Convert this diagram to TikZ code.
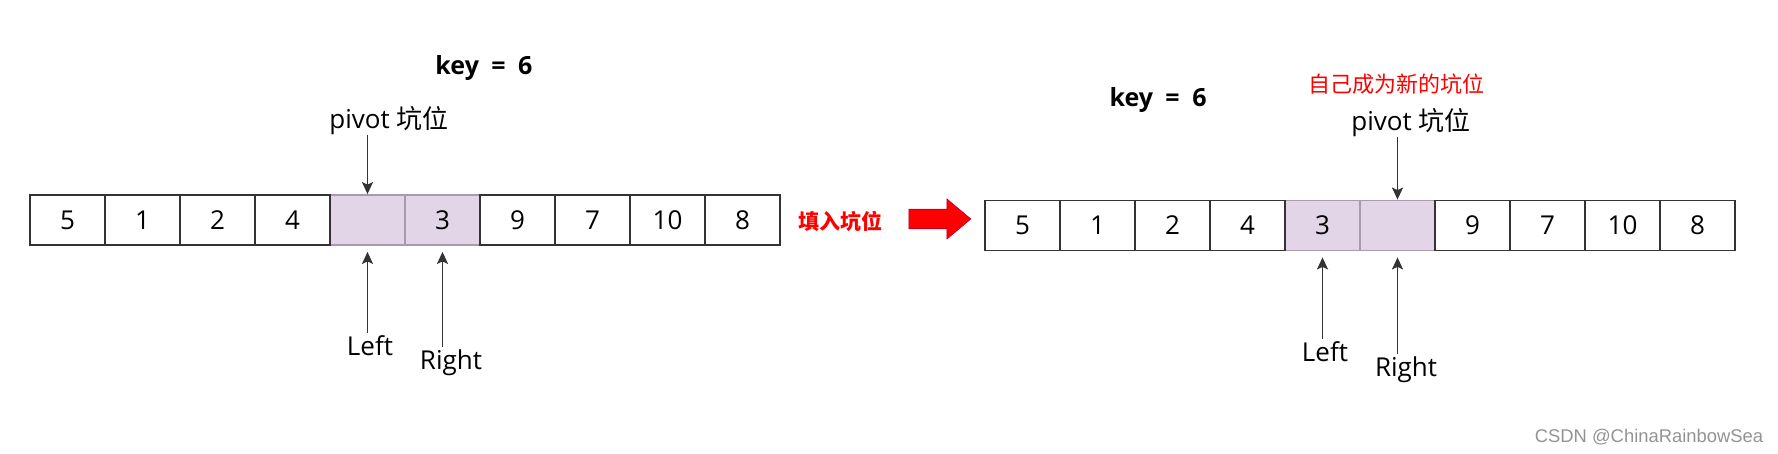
\documentclass[tikz,border=0pt]{standalone}
\usepackage{fontspec}
\setmainfont{Open Sans}
\newfontfamily\cjk{Noto Sans CJK SC}
\newfontfamily\wmfont{Liberation Sans}
\usetikzlibrary{arrows.meta, shapes.arrows}

\definecolor{cellline}{HTML}{333333}
\definecolor{holefill}{HTML}{E1D5E7}
\definecolor{holeline}{HTML}{A79CAD}
\definecolor{arrowline}{HTML}{B0003A}

\tikzset{
	cell/.style = {draw = cellline, line width = 1.8pt, minimum width = 75pt, minimum height = 50pt, inner sep = 0pt, font = \fontsize{26}{30}\selectfont},
	hole/.style = {cell, draw = holeline, fill = holefill},
	ptr/.style = {draw = cellline, line width = 1.8pt, -{Stealth[length = 12pt, width = 11pt, inset = 2.5pt]}},
	lbl/.style = {inner sep = 3pt, font = \fontsize{26}{30}\selectfont},
	keytext/.style = {inner sep = 0pt, font = \fontsize{25}{30}\selectfont\bfseries}
}

\begin{document}
\begin{tikzpicture}[x = 1pt, y = -1pt]
	\useasboundingbox (0, 0) rectangle (1778, 454);
	%\draw[gray, dotted] (0, 0) grid[step = 50] (1778, 454);
	% before: hole at 5
	\node[hole] (L5) at (367.5, 220) {}; \node[hole] (L6) at (442.5, 220) {3};
	\foreach \i/\v in {1/5, 2/1, 3/2, 4/4, 7/9, 8/7, 9/10, 10/8}
		\node[cell] (L\i) at ({75*\i - 7.5}, 220) {\v};
	\node[keytext] (lkey) at (484, 68) {key\hspace{6pt} =\hspace{6pt} 6};
	\node[lbl, inner sep = 0pt] (lpiv) at (389, 121) {pivot {\cjk 坑位}};
	\draw[ptr] (L5.north |- lpiv.south) -- (L5.north);
	\node[lbl] (lleft) at (370, 346) {Left};
	\node[lbl] (lright) at (451, 363) {Right};
	\draw[ptr, shorten > = 6pt] (L5.south |- lleft.north) -- (L5.south);
	\draw[ptr, shorten > = 6pt] (L6.south |- lright.north) -- (L6.south);
	% step
	\node[inner sep = 0pt, text = red, font = \fontsize{21}{25}\selectfont\cjk\bfseries] (fill) at (840, 221) {填入坑位};
	\node[single arrow, fill = red, draw = arrowline, line width = 0.6pt, inner sep = 6.5pt, minimum height = 62pt, minimum width = 40pt, single arrow tip angle = 80] (step) at (934, 219) {};
	% after: hole at 6
	\node[hole] (R5) at (1322.5, 225.5) {3}; \node[hole] (R6) at (1397.5, 225.5) {};
	\foreach \i/\v in {1/5, 2/1, 3/2, 4/4, 7/9, 8/7, 9/10, 10/8}
		\node[cell] (R\i) at ({75*\i + 947.5}, 225.5) {\v};
	\node[keytext] (rkey) at (1158, 100) {key\hspace{6pt} =\hspace{6pt} 6};
	\node[inner sep = 0pt, text = red, font = \fontsize{22}{26}\selectfont\cjk] (rnote) at (1396, 84) {自己成为新的坑位};
	\node[lbl, inner sep = 0pt] (rpiv) at (1411, 123) {pivot {\cjk 坑位}};
	\draw[ptr] (R6.north |- rpiv.south) -- (R6.north);
	\node[lbl] (rleft) at (1325, 352) {Left};
	\node[lbl] (rright) at (1406, 370) {Right};
	\draw[ptr, shorten > = 6pt] (R5.south |- rleft.north) -- (R5.south);
	\draw[ptr, shorten > = 6pt] (R6.south |- rright.north) -- (R6.south);
	\node[text = gray!85, font = \fontsize{18.4}{22}\wmfont] (mark) at (1649, 437) {CSDN @ChinaRainbowSea};
\end{tikzpicture}
\end{document}
